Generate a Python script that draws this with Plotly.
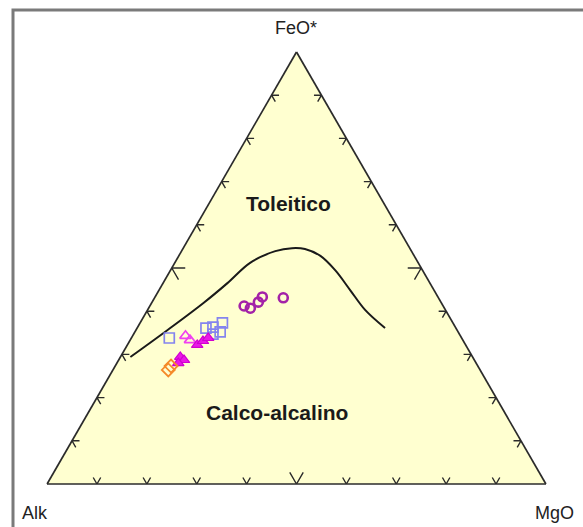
import plotly.graph_objects as go

# Ternary AFM diagram: A = Alk (Na2O+K2O), F = FeO*, M = MgO (percent)

# Tholeiitic / calc-alkaline boundary (FeO*, Alk, MgO)
bound_feo = [29.4, 35.6, 41.9, 46.5, 51.2, 53.9, 54.6, 54.4, 52.8, 49.5, 44.9, 40.3, 36.1]
bound_alk = [68.6, 58.1, 47.7, 40.6, 33.7, 27.3, 23.6, 21.1, 18.8, 17.5, 16.8, 16.1, 14.2]
bound_mgo = [2.0, 6.3, 10.4, 12.9, 15.1, 18.8, 21.8, 24.5, 28.4, 33.0, 38.3, 43.6, 49.7]

# Sample groups (FeO*, Alk, MgO)
sq_feo = [33.8, 36.1, 36.3, 37.3, 35.2, 34.7]
sq_alk = [58.6, 50.1, 48.6, 46.2, 47.7, 49.4]
sq_mgo = [7.6, 13.8, 15.1, 16.5, 17.1, 15.9]

tri_feo = [34.3, 33.3]
tri_alk = [55.1, 54.7]
tri_mgo = [10.6, 12.0]

ftri_feo = [32.2, 33.1, 33.8, 29.4, 28.7, 28.0]
ftri_alk = [53.8, 52.2, 50.8, 58.6, 58.2, 59.7]
ftri_mgo = [14.0, 14.7, 15.4, 12.0, 13.1, 12.3]

dia_feo = [27.3, 26.4]
dia_alk = [61.5, 62.5]
dia_mgo = [11.2, 11.1]

pur_feo = [41.2, 40.7, 42.1, 43.3, 43.1]
pur_alk = [39.9, 38.9, 36.6, 35.2, 31.1]
pur_mgo = [18.9, 20.4, 21.3, 21.5, 25.8]

# Edge tick positions (percent along each side); the middle one is longer
tick_pos = [10, 20, 30, 40, 50, 60, 70, 80, 90]
tick_short, tick_long = 1.5, 2.7

EDGE = "#2b2b2b"
FONT = "Arial, Liberation Sans, sans-serif"

fig = go.Figure()

# chevron ticks: two short stubs of the grid lines meeting at each edge point
ta, tb, tc = [], [], []
for t in tick_pos:
    L = tick_long if t == 50 else tick_short
    # bottom edge (FeO* = 0)
    b0, c0 = 100 - t, t
    ta += [L, 0, L, None]
    tb += [b0, b0, b0 - L, None]
    tc += [c0 - L, c0, c0, None]
    # left edge (MgO = 0)
    a0 = t
    ta += [a0, a0, a0 - L, None]
    tb += [100 - a0 - L, 100 - a0, 100 - a0, None]
    tc += [L, 0, L, None]
    # right edge (Alk = 0)
    ta += [a0, a0, a0 - L, None]
    tb += [L, 0, L, None]
    tc += [100 - a0 - L, 100 - a0, 100 - a0, None]

fig.add_trace(go.Scatterternary(
    a=ta, b=tb, c=tc, mode="lines",
    line=dict(color=EDGE, width=1.4), hoverinfo="skip", showlegend=False))

fig.add_trace(go.Scatterternary(
    a=bound_feo, b=bound_alk, c=bound_mgo, mode="lines",
    line=dict(color="#1a1a1a", width=2, shape="spline", smoothing=1.0),
    showlegend=False))

fig.add_trace(go.Scatterternary(
    a=sq_feo, b=sq_alk, c=sq_mgo, mode="markers",
    marker=dict(symbol="square-open", size=10, color="#8484ee", line=dict(width=1.7)),
    showlegend=False))

fig.add_trace(go.Scatterternary(
    a=pur_feo, b=pur_alk, c=pur_mgo, mode="markers",
    marker=dict(symbol="circle-open", size=9, color="#a322a8", line=dict(width=2.6)),
    showlegend=False))

fig.add_trace(go.Scatterternary(
    a=tri_feo, b=tri_alk, c=tri_mgo, mode="markers",
    marker=dict(symbol="triangle-up-open", size=10, color="#f040f0", line=dict(width=1.7)),
    showlegend=False))

fig.add_trace(go.Scatterternary(
    a=ftri_feo, b=ftri_alk, c=ftri_mgo, mode="markers",
    marker=dict(symbol="triangle-up", size=10, color="#ea18e6",
                line=dict(width=1.2, color="#d000d0")),
    showlegend=False))

fig.add_trace(go.Scatterternary(
    a=dia_feo, b=dia_alk, c=dia_mgo, mode="markers",
    marker=dict(symbol="diamond-open", size=10, color="#f58a2a", line=dict(width=1.8)),
    showlegend=False))

W, H = 583, 527
axis_style = dict(showline=True, linecolor=EDGE, linewidth=1.7,
                  showgrid=False, ticks="", showticklabels=False, title=dict(text=""))


def label(text, px, py, size, color="#222222"):
    return dict(text=text, x=px / W, y=1 - py / H, xref="paper", yref="paper",
                xanchor="center", yanchor="middle", showarrow=False,
                font=dict(size=size, color=color))


fig.update_layout(
    width=W, height=H,
    margin=dict(l=0, r=0, t=0, b=0),
    paper_bgcolor="white",
    font=dict(family=FONT, color="#222222"),
    ternary=dict(
        sum=100,
        domain=dict(x=[47 / W, 546 / W], y=[43 / H, 475 / H]),
        bgcolor="#ffffd0",
        aaxis=axis_style, baxis=axis_style, caxis=axis_style,
    ),
    shapes=[dict(type="rect", xref="paper", yref="paper",
                 x0=13 / W, y0=-0.05, x1=1.05, y1=1 - 10 / H,
                 line=dict(color="#7a7a7a", width=3), fillcolor="rgba(0,0,0,0)")],
    annotations=[
        label("FeO*", 296, 28, 18),
        label("Alk", 35, 513, 18),
        label("MgO", 554, 513, 18),
        label("<b>Toleitico</b>", 288, 203, 21, "#1a1a1a"),
        label("<b>Calco-alcalino</b>", 277, 412, 21, "#1a1a1a"),
    ],
)

fig.write_html("out.html")
